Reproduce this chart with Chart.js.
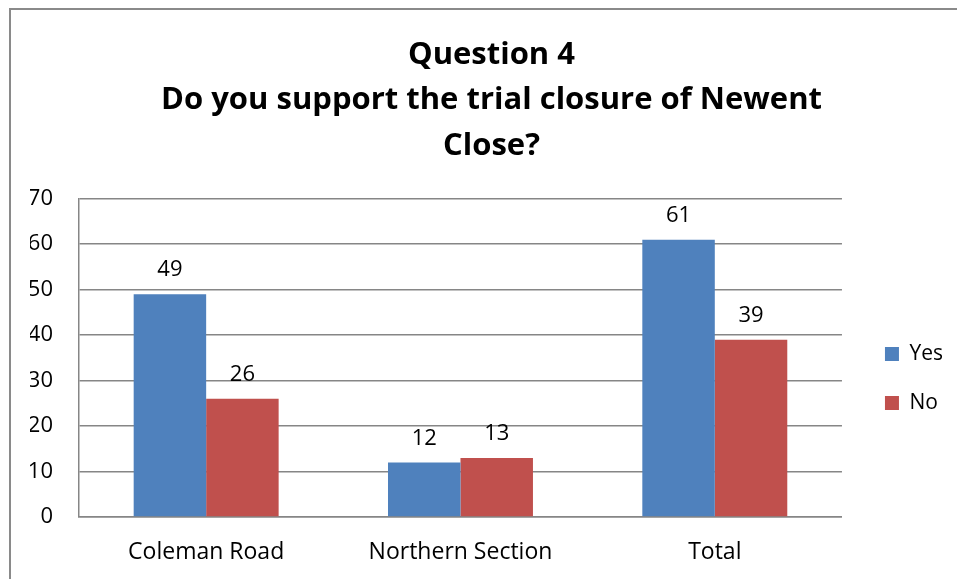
<!DOCTYPE html>
<html>
<head>
<meta charset="utf-8">
<script src="https://cdn.jsdelivr.net/npm/chart.js@4/dist/chart.umd.min.js"></script>
<style>
  html, body { margin: 0; padding: 0; background: #fff; overflow: hidden; }
  #frame { position: absolute; left: 9px; top: 8px; width: 1000px; height: 700px; border: 2px solid #8a8a8a; box-sizing: border-box; }
  #barChart { position: absolute; left: 0; top: 0; }
</style>
</head>
<body>
<div id="frame"></div>
<canvas id="barChart" width="957" height="579"></canvas>
<script>
  // dữ liệu
  const categories = ["Coleman Road", "Northern Section", "Total"];
  const yesValues = [49, 12, 61];
  const noValues = [26, 13, 39];
  const titleLines = ["Question 4", "Do you support the trial closure of Newent", "Close?"];

  const FONT = "'Open Sans', sans-serif";
  const FONT_SIZE = 22;

  // plugin nhỏ để vẽ số trên đầu cột
  const valueLabels = {
    id: "valueLabels",
    afterDatasetsDraw(chart) {
      const ctx = chart.ctx;
      ctx.save();
      ctx.font = FONT_SIZE + "px " + FONT;
      ctx.fillStyle = "#000";
      ctx.textAlign = "center";
      ctx.textBaseline = "middle";
      chart.data.datasets.forEach(function (ds, i) {
        chart.getDatasetMeta(i).data.forEach(function (bar, j) {
          ctx.fillText(ds.data[j], bar.x, bar.y - 24);
        });
      });
      ctx.restore();
    },
  };

  const ctx = document.getElementById("barChart");
  new Chart(ctx, {
    type: "bar",
    data: {
      labels: categories,
      datasets: [
        { label: "Yes", data: yesValues, backgroundColor: "#4F81BD", categoryPercentage: 0.57, barPercentage: 1 },
        { label: "No", data: noValues, backgroundColor: "#C0504D", categoryPercentage: 0.57, barPercentage: 1 },
      ],
    },
    options: {
      responsive: false,
      animation: false,
      layout: { padding: { left: 30, right: 4, top: 0, bottom: 12 } },
      scales: {
        y: {
          min: 0,
          max: 70,
          ticks: { stepSize: 10, padding: 26, color: "#000", font: { size: FONT_SIZE, family: FONT } },
          grid: { color: "#868686", lineWidth: 1.5, drawTicks: false },
          border: { color: "#868686", width: 1.5 },
          afterFit: function (scale) { scale.width = 49; },
        },
        // trục phụ bên phải chỉ để tạo khoảng trống trước chú thích
        gap: {
          position: "right",
          min: 0,
          max: 1,
          ticks: { display: false },
          grid: { display: false },
          border: { display: false },
          afterFit: function (scale) { scale.width = 15; },
        },
        x: {
          ticks: { padding: 22, color: "#000", font: { size: 23, family: FONT } },
          grid: { display: false, drawTicks: false },
          border: { color: "#868686", width: 1.5 },
          afterFit: function (scale) { scale.height = 50; },
        },
      },
      plugins: {
        legend: {
          position: "right",
          title: { display: true, text: " ", padding: 89, font: { size: 10 } },
          labels: { boxWidth: 14, boxHeight: 14, padding: 28, color: "#000", font: { size: 21, family: FONT } },
        },
        title: {
          display: true,
          text: titleLines,
          color: "#000",
          font: { size: 31, weight: "bold", family: FONT, lineHeight: 1.47 },
          padding: { top: 32, bottom: 30 },
        },
        tooltip: { enabled: false },
      },
    },
    plugins: [valueLabels],
  });
</script>
</body>
</html>
